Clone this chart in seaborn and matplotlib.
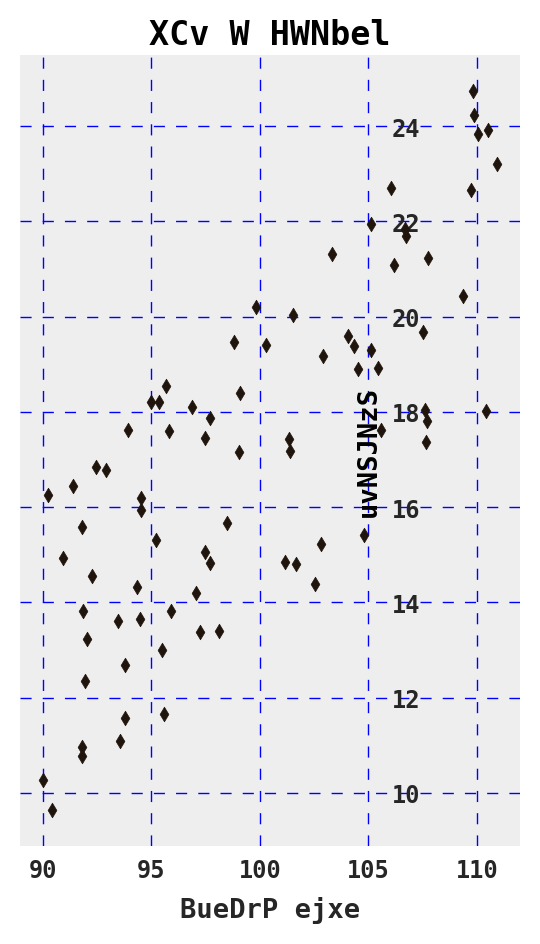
import matplotlib
matplotlib.use("Agg")
import matplotlib.pyplot as plt
import pandas as pd
import seaborn as sns

# values
x_vals = [90.00, 90.42, 91.80, 91.80, 93.55, 93.78, 95.58, 91.94, 93.78, 95.49,
          92.03, 93.46, 94.47, 97.24, 98.12, 91.85, 95.90, 94.34, 97.06, 92.26,
          102.55, 90.92, 101.16, 101.67, 97.70, 97.47, 102.82, 95.21, 104.81, 91.80,
          98.49, 94.52, 94.52, 90.23, 91.38, 92.44, 92.91, 99.04, 101.39, 101.35,
          97.47, 95.81, 93.92, 105.59, 107.67, 97.70, 107.71, 96.87, 94.98, 95.35,
          107.62, 110.43, 99.09, 95.67, 104.53, 105.45, 102.91, 105.13, 104.34, 100.29,
          98.81, 104.07, 107.53, 101.53, 99.82, 109.37, 103.33, 106.19, 107.76, 106.70,
          106.75, 105.13, 106.05, 109.74, 110.94, 110.06, 110.53, 109.88, 109.83]
y_vals = [10.27, 9.64, 10.97, 10.78, 11.09, 11.57, 11.66, 12.35, 12.69, 13.00,
          13.23, 13.61, 13.65, 13.38, 13.40, 13.82, 13.82, 14.32, 14.20, 14.55,
          14.39, 14.93, 14.85, 14.81, 14.83, 15.06, 15.23, 15.31, 15.42, 15.58,
          15.67, 16.19, 15.94, 16.26, 16.44, 16.84, 16.78, 17.16, 17.18, 17.43,
          17.45, 17.60, 17.62, 17.62, 17.37, 17.87, 17.81, 18.10, 18.21, 18.21,
          18.04, 18.02, 18.40, 18.54, 18.90, 18.92, 19.17, 19.30, 19.38, 19.40,
          19.47, 19.59, 19.68, 20.03, 20.20, 20.43, 21.31, 21.08, 21.23, 21.84,
          21.69, 21.94, 22.70, 22.66, 23.20, 23.83, 23.92, 24.23, 24.74]

title = "XCv W HWNbel"
x_label = "BueDrP ejxe"
y_label = "uvNSJNzS"
x_ticks = [90, 95, 100, 105, 110]
y_ticks = [10, 12, 14, 16, 18, 20, 22, 24]

sns.set_theme(style="darkgrid", rc={"axes.facecolor": "#EEEEEE"})
plt.rcParams['font.family'] = ['DejaVu Sans Mono']
plt.rcParams['font.weight'] = 'bold'

fig = plt.figure(figsize=(5.4, 9.45), dpi=100)
ax = fig.add_axes([20 / 540, 98 / 945, 500 / 540, 791 / 945])

df = pd.DataFrame({"x": x_vals, "y": y_vals})
sns.scatterplot(data=df, x="x", y="y", marker="d", s=55, color="#20150c",
                edgecolor="#20150c", linewidth=0.5, ax=ax)

ax.grid(True, color="blue", linestyle=(0, (8, 8)), linewidth=1.0)
for sp in ax.spines.values():
    sp.set_visible(False)
# y axis sits inside the plot
ax.spines['left'].set_position(('axes', 0.81))

ax.set_xticks(x_ticks)
ax.set_yticks(y_ticks)
ax.tick_params(axis='x', length=0, pad=9, labelsize=17, labelcolor="#262626")
ax.tick_params(axis='y', length=0, labelsize=17, labelcolor="#262626")

ax.set_title(title, fontsize=24, fontweight='bold', color='black', pad=8)
ax.set_xlabel(x_label, fontsize=19.5, fontweight='bold', color='#262626', labelpad=10)
ax.set_ylabel(y_label, fontsize=19.5, fontweight='bold', color='black', labelpad=7)

fig.savefig("out.png", dpi=100)
